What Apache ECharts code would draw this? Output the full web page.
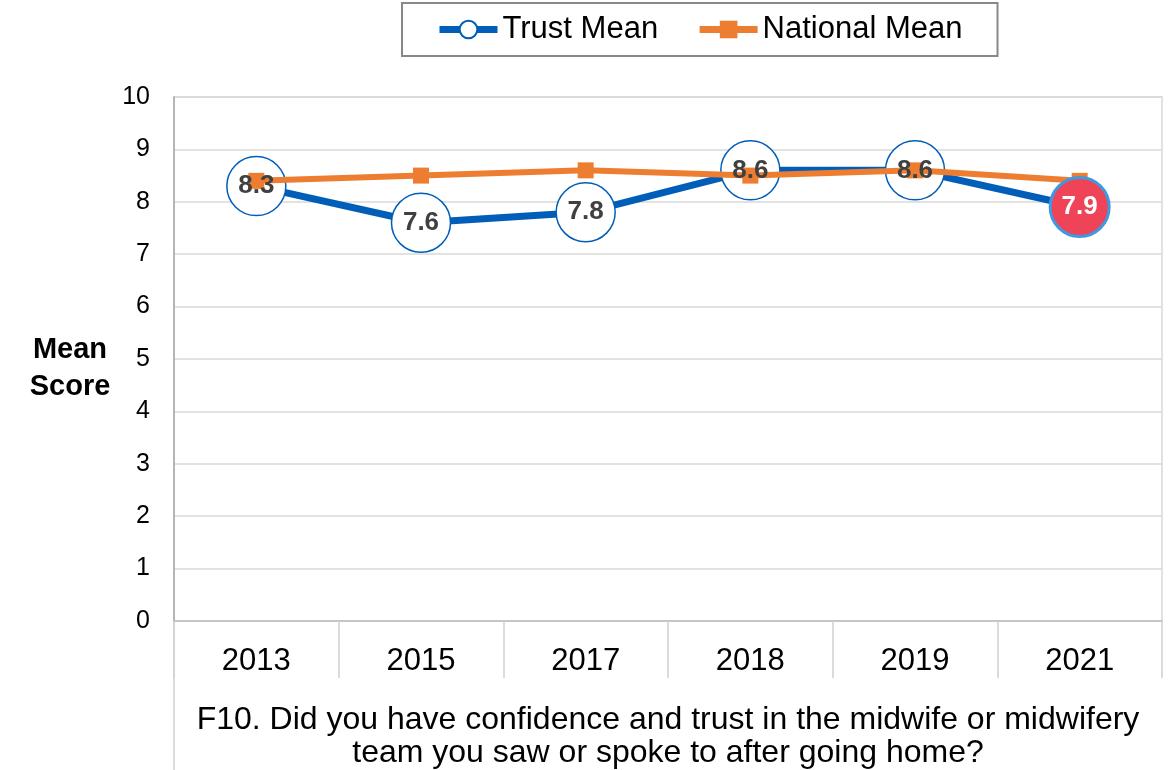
<!DOCTYPE html>
<html>
<head>
<meta charset="utf-8">
<script src="https://cdn.jsdelivr.net/npm/echarts@6/dist/echarts.min.js"></script>
<style>
  html, body { margin: 0; padding: 0; background: #fff; }
  #chart { width: 1171px; height: 770px; }
</style>
</head>
<body>
<div id="chart"></div>
<script>
var years = ['2013', '2015', '2017', '2018', '2019', '2021'];
var trustMean = [8.3, 7.6, 7.8, 8.6, 8.6, 7.9];
var nationalMean = [8.4, 8.5, 8.6, 8.5, 8.6, 8.4];
var yTicks = [0, 10, 1]; // min, max, step
var highlightYear = '2021';
var question = 'F10. Did you have confidence and trust in the midwife or midwifery\nteam you saw or spoke to after going home?';

var chart = echarts.init(document.getElementById('chart'));

// labels (and the flagged point) sit on top of both lines
var labelData = trustMean.map(function (v, i) {
	if (years[i] === highlightYear) {
		return {
			value: v,
			symbol: 'circle',
			symbolSize: 59,
			itemStyle: { color: '#EF4458', borderColor: '#3D9AE0', borderWidth: 3, opacity: 1 },
			label: { color: '#ffffff' }
		};
	}
	return { value: v };
});

var option = {
	animation: false,
	textStyle: { fontFamily: 'Liberation Sans, Arial, sans-serif' },
	legend: {
		data: ['Trust Mean', 'National Mean'],
		left: 402,
		top: 3,
		padding: [10, 35, 10, 34],
		itemWidth: 58,
		itemHeight: 22,
		itemGap: 38,
		borderColor: '#888888',
		borderWidth: 2,
		lineStyle: { width: 7 },
		textStyle: { fontSize: 31, color: '#000', lineHeight: 33 }
	},
	grid: {
		left: 174,
		right: 9,
		top: 97,
		bottom: 149,
		outerBoundsMode: 'none',
		show: true,
		borderColor: '#d9d9d9',
		borderWidth: 1.5
	},
	xAxis: {
		type: 'category',
		data: years,
		boundaryGap: true,
		axisLine: { lineStyle: { color: '#bfbfbf', width: 1.5 } },
		axisTick: { show: true, interval: 0, length: 57, lineStyle: { color: '#d0d0d0', width: 1.5 } },
		axisLabel: { fontSize: 31, color: '#000', margin: 25, interval: 0 },
		name: question,
		nameLocation: 'middle',
		nameGap: 116,
		nameTextStyle: { fontSize: 32, color: '#000', lineHeight: 33, align: 'center', verticalAlign: 'middle' }
	},
	yAxis: {
		type: 'value',
		min: yTicks[0],
		max: yTicks[1],
		interval: yTicks[2],
		axisLine: { show: true, lineStyle: { color: '#a6a6a6', width: 1.5 } },
		axisTick: { show: false },
		axisLabel: { fontSize: 25, color: '#000', margin: 24 },
		splitLine: { lineStyle: { color: '#d9d9d9', width: 1.5 } },
		// empty first row nudges the two-line title down a little
		name: '{gap| }\nMean\nScore',
		nameLocation: 'middle',
		nameRotate: 0,
		nameGap: 104,
		nameTextStyle: {
			fontSize: 29, fontWeight: 'bold', color: '#000', lineHeight: 37,
			align: 'center', verticalAlign: 'middle',
			rich: { gap: { fontSize: 2, lineHeight: 18 } }
		}
	},
	series: [
		{
			name: 'Trust Mean',
			type: 'line',
			data: trustMean,
			z: 2,
			symbol: 'circle',
			symbolSize: 59,
			lineStyle: { color: '#005EB8', width: 7 },
			itemStyle: { color: '#ffffff', borderColor: '#005EB8', borderWidth: 1.5 },
			label: { show: false }
		},
		{
			name: 'National Mean',
			type: 'line',
			data: nationalMean,
			z: 3,
			symbol: 'rect',
			symbolSize: 16,
			lineStyle: { color: '#ED7D31', width: 6 },
			itemStyle: { color: '#ED7D31', borderWidth: 0 }
		},
		{
			name: 'labels',
			type: 'scatter',
			data: labelData,
			z: 5,
			symbolSize: 0,
			silent: true,
			itemStyle: { opacity: 1 },
			label: {
				show: true,
				position: 'inside',
				fontSize: 26,
				fontWeight: 'bold',
				color: '#404040',
				formatter: function (p) { return p.value.toFixed(1); }
			}
		}
	],
	graphic: [{
		type: 'line',
		shape: { x1: 174, y1: 621, x2: 174, y2: 770 },
		style: { stroke: '#d0d0d0', lineWidth: 1.5 }
	}]
};

chart.setOption(option, true);
</script>
</body>
</html>
